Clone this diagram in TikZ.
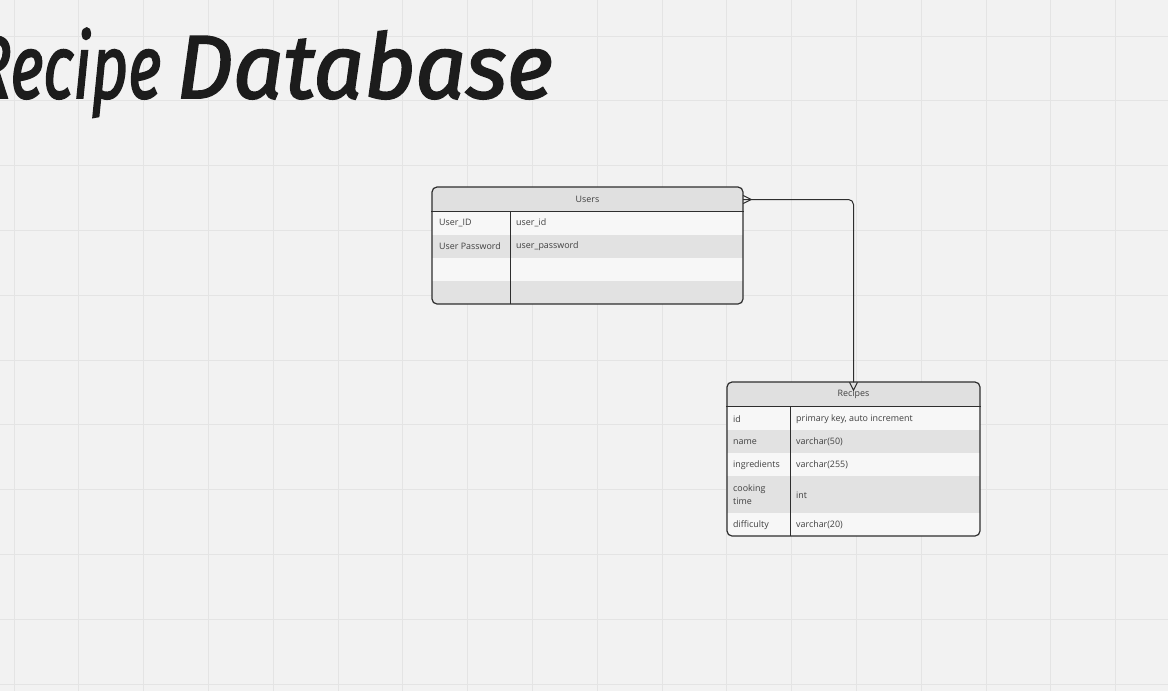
\documentclass[tikz,border=0pt]{standalone}
\usepackage{fontspec}
\usepackage{graphicx}
\setmainfont{Open Sans}
\newfontfamily\titlefont[FakeBold=2.2]{Fira Sans}
\definecolor{bg}{HTML}{F2F2F2}
\definecolor{gridc}{HTML}{E4E4E4}
\definecolor{hdr}{HTML}{E0E0E0}
\definecolor{rowl}{HTML}{F7F7F7}
\definecolor{rowd}{HTML}{E2E2E2}
\definecolor{edge}{HTML}{2E2E2E}
\definecolor{txt}{HTML}{404040}
\definecolor{titlec}{HTML}{1C1C1C}
\tikzset{
  tablebox/.style={draw=edge, line width=1.2pt, rounded corners=5pt, inner sep=0pt, fill=none},
  hdrcell/.style={inner sep=0pt, text=txt, font=\fontsize{8.9}{10}\selectfont},
  cell/.style={inner sep=0pt, anchor=west, text=txt, font=\fontsize{8.9}{10}\selectfont, align=left},
  conn/.style={draw=edge, line width=1pt},
  rule/.style={draw=edge, line width=1pt},
}
\begin{document}
\begin{tikzpicture}[x=1pt,y=-1pt]
\fill[bg] (0,0) rectangle (1168,691);
\useasboundingbox (0,0) rectangle (1168,691);
\clip (0,0) rectangle (1168,691);
% grid
\foreach \k in {0,...,17} \draw[gridc, line width=1pt] ({14+64.8*\k},0) -- ({14+64.8*\k},691);
\foreach \k in {0,...,10} \draw[gridc, line width=1pt] (0,{36+64.8*\k}) -- (1168,{36+64.8*\k});
% title
\node[anchor=base east, inner sep=0pt, text=titlec, font=\titlefont\itshape\fontsize{80}{90}\selectfont, xscale=1.11, yscale=1.12] (title) at (553,98) {\scalebox{0.72}[1]{Recipe}\hspace{-7pt} Database};

% ---------- Users table ----------
\begin{scope}
\clip[rounded corners=5pt] (432,187) rectangle (743,304);
\fill[hdr] (432,187) rectangle (743,211);
\fill[rowl] (432,211) rectangle (743,235);
\fill[rowd] (432,235) rectangle (743,258);
\fill[rowl] (432,258) rectangle (743,281);
\fill[rowd] (432,281) rectangle (743,304);
\end{scope}
\node[tablebox, minimum width=311pt, minimum height=117pt] (users) at (587.5,245.5) {};
\node[hdrcell, minimum width=311pt, minimum height=24pt] (usersH) at (587.5,199.5) {Users};
\draw[rule] (users.west |- usersH.south) -- (users.east |- usersH.south);
\coordinate (ucolT) at (510,211);
\coordinate (ucolB) at (510,304);
\draw[rule] (ucolT) -- (ucolB);
\node[cell] (u1a) at (439,223) {User\_ID};
\node[cell] (u1b) at (516,223) {user\_id};
\node[cell] (u2a) at (439,246.5) {User Password};
\node[cell] (u2b) at (516,246.5) {user\_password};

% ---------- Recipes table ----------
\begin{scope}
\clip[rounded corners=5pt] (727,382) rectangle (980,536);
\fill[hdr] (727,382) rectangle (980,406);
\fill[rowl] (727,406) rectangle (980,430);
\fill[rowd] (727,430) rectangle (980,453);
\fill[rowl] (727,453) rectangle (980,476);
\fill[rowd] (727,476) rectangle (980,513);
\fill[rowl] (727,513) rectangle (980,536);
\end{scope}
\node[tablebox, minimum width=253pt, minimum height=154pt] (recipes) at (853.5,459) {};
\node[hdrcell, minimum width=253pt, minimum height=24pt] (recipesH) at (853.5,394.5) {Recipes};
\draw[rule] (recipes.west |- recipesH.south) -- (recipes.east |- recipesH.south);
\coordinate (rcolT) at (790,406);
\coordinate (rcolB) at (790,536);
\draw[rule] (rcolT) -- (rcolB);
\node[cell] (r1a) at (733,419) {id};
\node[cell] (r1b) at (796,419) {primary key, auto increment};
\node[cell] (r2a) at (733,442) {name};
\node[cell] (r2b) at (796,442) {varchar(50)};
\node[cell] (r3a) at (733,465) {ingredients};
\node[cell] (r3b) at (796,465) {varchar(255)};
\node[cell, font=\fontsize{8.9}{13}\selectfont] (r4a) at (733,495) {cooking\\time};
\node[cell] (r4b) at (796,495) {int};
\node[cell] (r5a) at (733,525) {difficulty};
\node[cell] (r5b) at (796,525) {varchar(20)};

% ---------- connector ----------
\draw[conn, rounded corners=5pt] (usersH.east) -| (recipesH.north);
% crow's feet
\draw[conn] ([yshift=-4pt]usersH.east) -- ([xshift=8pt]usersH.east) -- ([yshift=4pt]usersH.east);
\draw[conn] ([xshift=-4pt]recipesH.north) -- ([yshift=-8pt]recipesH.north) -- ([xshift=4pt]recipesH.north);
\end{tikzpicture}
\end{document}
